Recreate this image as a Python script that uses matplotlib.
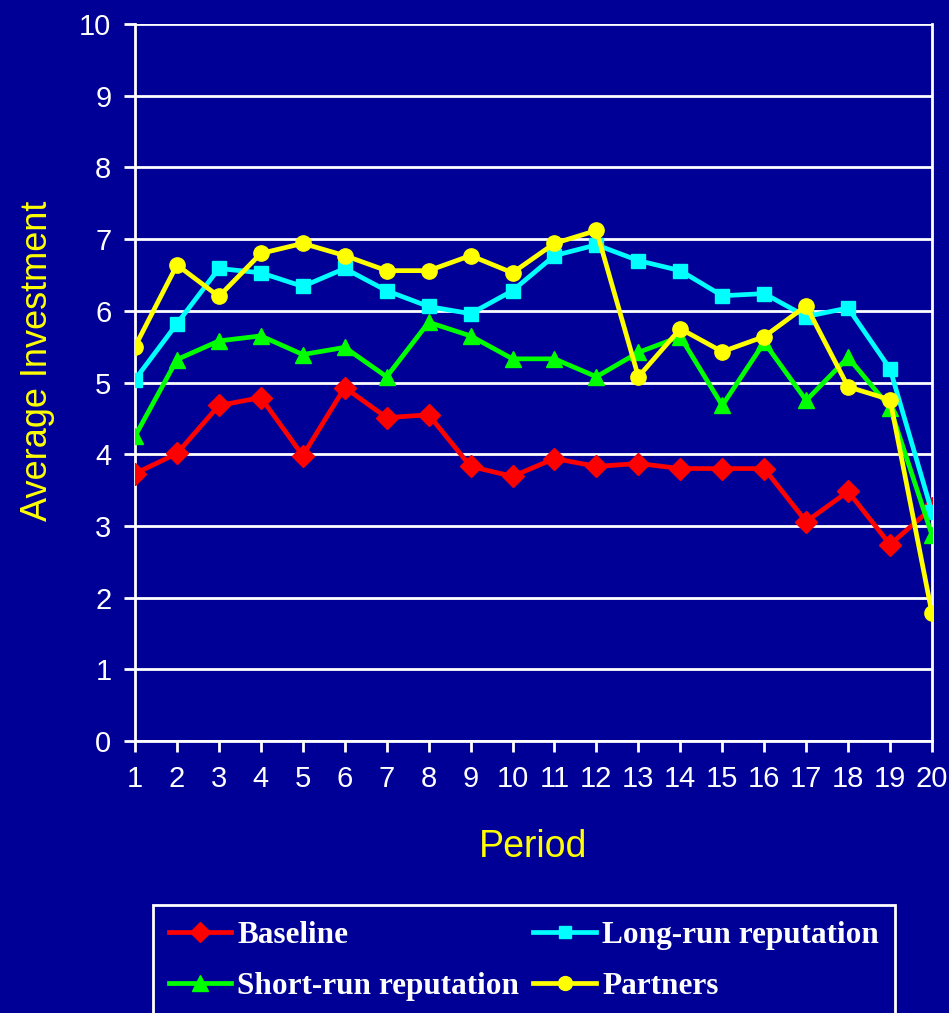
import matplotlib
matplotlib.use("Agg")
from matplotlib import pyplot as plt
from matplotlib.lines import Line2D

# values
periods = list(range(1, 21))
baseline = [3.73, 4.01, 4.68, 4.79, 3.98, 4.93, 4.51, 4.55, 3.83, 3.69,
            3.94, 3.83, 3.87, 3.80, 3.80, 3.80, 3.06, 3.48, 2.74, 3.25]
long_run = [5.04, 5.82, 6.59, 6.53, 6.34, 6.59, 6.28, 6.06, 5.96, 6.28,
            6.77, 6.92, 6.70, 6.56, 6.21, 6.24, 5.92, 6.04, 5.19, 3.19]
short_run = [4.25, 5.32, 5.58, 5.65, 5.39, 5.49, 5.08, 5.84, 5.65, 5.33,
             5.33, 5.08, 5.42, 5.64, 4.68, 5.56, 4.75, 5.35, 4.65, 2.87]
partners = [5.50, 6.64, 6.20, 6.80, 6.94, 6.77, 6.56, 6.56, 6.77, 6.53,
            6.94, 7.12, 5.08, 5.75, 5.43, 5.64, 6.07, 4.94, 4.76, 1.78]

bg = "#000096"
W, H = 949, 1013

fig = plt.figure(figsize=(W / 100, H / 100), dpi=100, facecolor=bg)
ax = fig.add_axes([135 / W, 1 - 741 / H, (932 - 135) / W, (741 - 24) / H])
ax.set_facecolor(bg)

ax.plot(periods, baseline, color="#ff0000", lw=3.4, marker="D", ms=11, label="Baseline", zorder=3)
ax.plot(periods, long_run, color="#00ffff", lw=3.4, marker="s", ms=10, label="Long-run reputation", zorder=3)
ax.plot(periods, short_run, color="#00ff00", lw=3.4, marker="^", ms=12, label="Short-run reputation", zorder=3)
ax.plot(periods, partners, color="#ffff00", lw=3.4, marker="o", ms=11, label="Partners", zorder=4)

ax.set_xlim(1, 20)
ax.set_ylim(0, 10)
ax.set_xticks(periods)
ax.set_yticks(range(0, 11))
ax.yaxis.grid(True, color="white", lw=2)
ax.set_axisbelow(True)
for s in ax.spines.values():
    s.set_color("white")
    s.set_linewidth(2)
ax.spines["top"].set_visible(False)
ax.tick_params(colors="white", width=2, length=8, labelsize=21, pad=9)
for lbl in ax.get_xticklabels() + ax.get_yticklabels():
    lbl.set_fontfamily("Liberation Sans")

ax.set_xlabel("Period", color="#ffff00", fontsize=27, family="Liberation Sans", labelpad=26)
ax.set_ylabel("Average Investment", color="#ffff00", fontsize=26, family="Liberation Sans")
ax.yaxis.set_label_coords(-0.1, 0.53)

handles = [
    Line2D([], [], color="#ff0000", lw=3.4, marker="D", ms=10),
    Line2D([], [], color="#00ff00", lw=3.4, marker="^", ms=11),
    Line2D([], [], color="#00ffff", lw=3.4, marker="s", ms=9),
    Line2D([], [], color="#ffff00", lw=3.4, marker="o", ms=10),
]
labels = ["Baseline", "Short-run reputation", "Long-run reputation", "Partners"]
leg = fig.legend(handles, labels, ncol=2, loc="upper left",
                 bbox_to_anchor=(153 / W, 1 - 905 / H), borderaxespad=0,
                 facecolor=bg, edgecolor="white", framealpha=1, fancybox=False,
                 prop={"family": "Liberation Serif", "weight": "bold", "size": 22.5},
                 handlelength=2.0, handletextpad=0.2, columnspacing=0.45,
                 labelspacing=0.7, borderpad=0.5)
leg.get_frame().set_linewidth(2)
for t in leg.get_texts():
    t.set_color("white")

fig.savefig("out.png", dpi=100, facecolor=bg)
